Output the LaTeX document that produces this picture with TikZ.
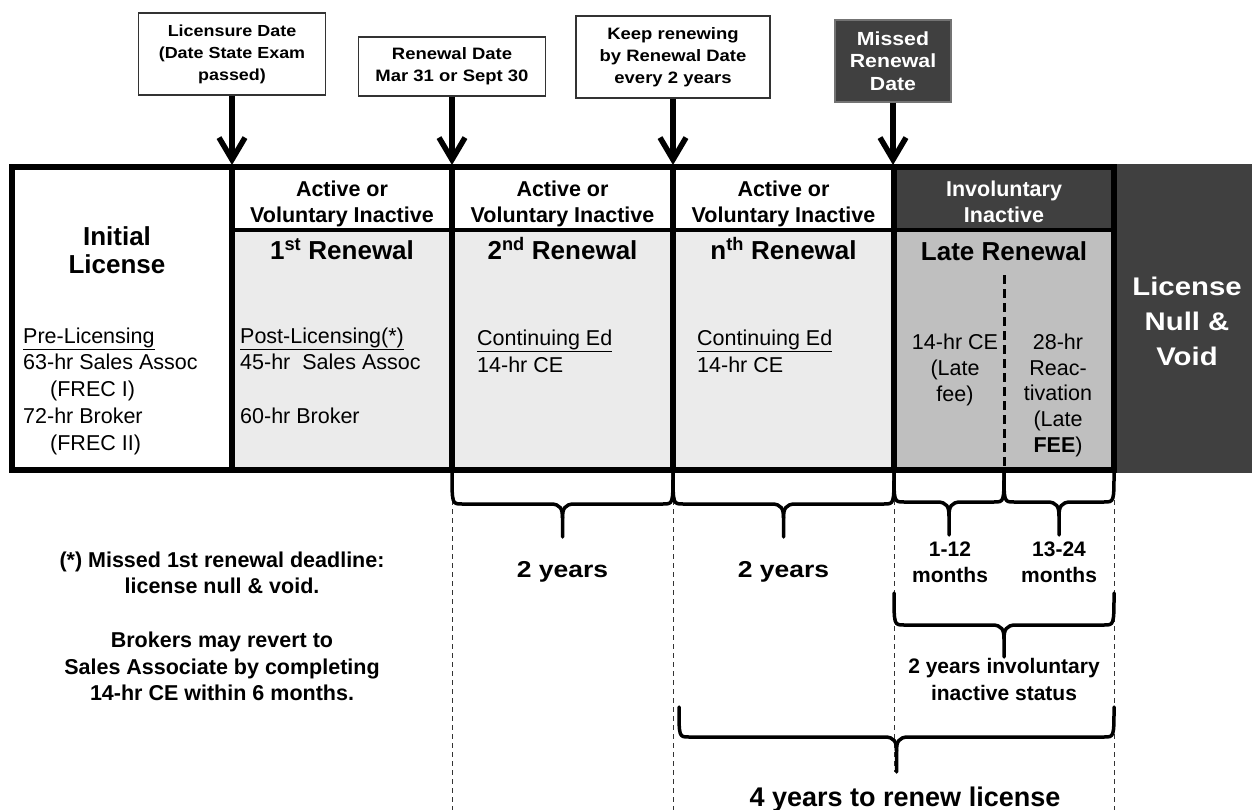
\documentclass[tikz,border=0pt]{standalone}
\usepackage{fontspec}
\setmainfont{Liberation Sans}
\newfontfamily\wfont[FakeStretch=1.15]{Liberation Sans}
\newfontfamily\cfont[FakeStretch=1.12]{Liberation Sans}
\usetikzlibrary{arrows.meta}
\definecolor{lg}{RGB}{235,235,235}
\definecolor{mg}{RGB}{191,191,191}
\definecolor{dg}{RGB}{64,64,64}
\newcommand\myfs[2]{\fontsize{#1}{#2}\selectfont}
\newcommand\mybrace[5]{%
  \draw[brc] (#1,#3) .. controls (#1,#4) .. ({#1+10},#4) -- ({(#1+#2)/2-12},#4)
     .. controls ({(#1+#2)/2-2},#4) and ({(#1+#2)/2},{#4+5}) .. ({(#1+#2)/2},{#4+14}) -- ({(#1+#2)/2},#5);
  \draw[brc] (#2,#3) .. controls (#2,#4) .. ({#2-10},#4) -- ({(#1+#2)/2+12},#4)
     .. controls ({(#1+#2)/2+2},#4) and ({(#1+#2)/2},{#4+5}) .. ({(#1+#2)/2},{#4+14});
}
\begin{document}
\begin{tikzpicture}[x=1pt,y=-1pt,
  callout/.style={draw=black!80,line width=1.2pt,fill=white,inner sep=0pt,align=center,font=\cfont\bfseries\myfs{16.5}{22}},
  arr/.style={line width=5.5pt,-{Straight Barb[length=22pt,width=26pt]}},
  frame/.style={line width=5.5pt},
  hdr/.style={anchor=north,align=center,inner sep=0pt,font=\bfseries\myfs{21.5}{26}},
  ttl/.style={anchor=base,inner sep=0pt,font=\bfseries\myfs{26}{28}},
  body/.style={anchor=north west,align=left,inner sep=0pt,font=\myfs{21.5}{26.7}},
  ctext/.style={anchor=north,align=center,inner sep=0pt},
  brc/.style={line width=3.5pt,line cap=round,line join=round},
  guide/.style={line width=1pt,dash pattern=on 5pt off 4pt,black!80}
]
\useasboundingbox (0,0) rectangle (1252,810);

% ---- band fills
\fill[lg] (232,230) rectangle (894,470);
\fill[dg] (894,167) rectangle (1114,230);
\fill[mg] (894,230) rectangle (1114,470);
\fill[dg] (1114,164.25) rectangle (1252,472.75);

% ---- band lines
\draw[frame] (12,167) rectangle (1114,470);
\foreach \x in {232,452,673,894} \draw[frame] (\x,167) -- (\x,470);
\draw[line width=4pt] (232,230) -- (1114,230);
\draw[line width=3pt,dash pattern=on 9pt off 5pt] (1004,275) -- (1004,470);

% ---- callouts
\node[callout,minimum width=187pt,minimum height=82pt,font=\cfont\bfseries\myfs{16}{22}] (lic) at (232,54) {Licensure Date\\(Date State Exam\\passed)};
\node[callout,minimum width=187pt,minimum height=59pt] (ren) at (452,66.5) {Renewal Date\\Mar 31 or Sept 30};
\node[callout,minimum width=194pt,minimum height=82pt] (keep) at (673,57) {Keep renewing\\by Renewal Date\\every 2 years};
\node[callout,minimum width=116pt,minimum height=82pt,fill=dg,draw=black!55,text=white,font=\cfont\bfseries\myfs{19}{22.5}] (miss) at (893,61) {Missed\\Renewal\\Date};

\coordinate (t1) at (232,165);
\coordinate (t2) at (452,165);
\coordinate (t3) at (673,165);
\coordinate (t4) at (893,165);
\draw[arr] (lic) -- (t1);
\draw[arr] (ren) -- (t2);
\draw[arr] (keep) -- (t3);
\draw[arr] (miss) -- (t4);

% ---- headers
\node[hdr] (h1) at (342,180.5) {Active or\\Voluntary Inactive};
\node[hdr] (h2) at (562.5,180.5) {Active or\\Voluntary Inactive};
\node[hdr] (h3) at (783.5,180.5) {Active or\\Voluntary Inactive};
\node[hdr,text=white] (h4) at (1004,180.5) {Involuntary\\Inactive};

\node[ttl] (r1) at (342,260) {1\textsuperscript{st} Renewal};
\node[ttl] (r2) at (562.5,260) {2\textsuperscript{nd} Renewal};
\node[ttl] (r3) at (783.5,260) {n\textsuperscript{th} Renewal};
\node[ttl] (r4) at (1004,261) {Late Renewal};

\node[ctext,font=\bfseries\myfs{26}{28}] (init) at (117,226.3) {Initial\\License};

\node[body] (b1) at (23,327.5) {\underline{Pre-Licensing}\\63-hr Sales Assoc\\\hspace*{27pt}(FREC I)\\72-hr Broker\\\hspace*{27pt}(FREC II)};
\node[body] (b2) at (240,327.5) {\underline{Post-Licensing(*)}\\45-hr\ \ Sales Assoc\\[26.7pt]60-hr Broker};
\node[body] (b3) at (477,330) {\underline{Continuing Ed}\\14-hr CE};
\node[body] (b4) at (697,330) {\underline{Continuing Ed}\\14-hr CE};
\node[ctext,font=\myfs{21.5}{26}] (b5) at (955,333.5) {14-hr CE\\(Late\\fee)};
\node[ctext,font=\myfs{21.5}{25.8}] (b6) at (1058,333.5) {28-hr\\Reac-\\tivation\\(Late\\\textbf{FEE})};
\node[ctext,text=white,font=\wfont\bfseries\myfs{25.5}{35}] (nv) at (1187,276.6) {License\\Null \&\\Void};

% ---- left note
\node[ctext,font=\bfseries\myfs{21.5}{26.7}] (note) at (222,551.5) {(*) Missed 1st renewal deadline:\\license null \& void.\\[26.7pt]Brokers may revert to\\Sales Associate by completing\\14-hr CE within 6 months.};

% ---- guides
\coordinate (g1) at (452,473); \coordinate (g1e) at (452,810);
\coordinate (g2) at (673,473); \coordinate (g2e) at (673,810);
\coordinate (g3) at (894,473); \coordinate (g3e) at (894,772);
\coordinate (g4) at (1114,473); \coordinate (g4e) at (1114,810);
\draw[guide] (g1) -- (g1e);
\draw[guide] (g2) -- (g2e);
\draw[guide] (g3) -- (g3e);
\draw[guide] (g4) -- (g4e);

% ---- braces
\mybrace{452}{673}{472}{504}{537}
\mybrace{673}{894}{472}{504}{537}
\mybrace{894}{1004}{472}{502}{535}
\mybrace{1004}{1114}{472}{502}{535}
\mybrace{894}{1114}{593}{625}{657}
\mybrace{679}{1114}{707}{737}{772}

% ---- brace labels
\node[anchor=base,inner sep=0pt,font=\wfont\bfseries\myfs{23}{28}] (y1) at (562.5,577) {2 years};
\node[anchor=base,inner sep=0pt,font=\wfont\bfseries\myfs{23}{28}] (y2) at (783.5,577) {2 years};
\node[ctext,font=\bfseries\myfs{21}{26}] (m1) at (950,541.9) {1-12\\months};
\node[ctext,font=\bfseries\myfs{21}{26}] (m2) at (1059,541.9) {13-24\\months};
\node[ctext,font=\bfseries\myfs{21}{27}] (inv) at (1004,657.9) {2 years involuntary\\inactive status};
\node[anchor=base,inner sep=0pt,font=\bfseries\myfs{27}{30}] (four) at (905,806) {4 years to renew license};
\end{tikzpicture}
\end{document}
